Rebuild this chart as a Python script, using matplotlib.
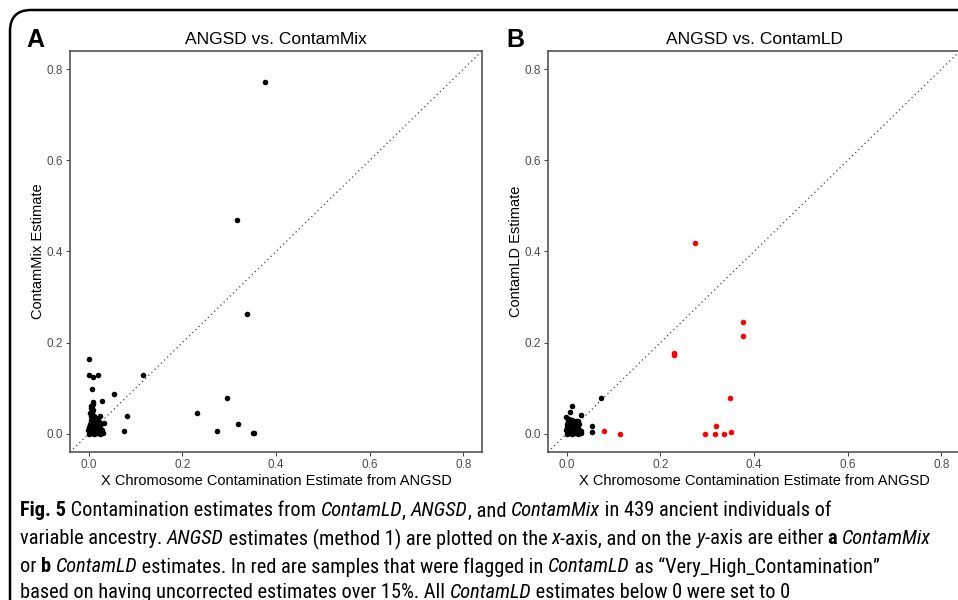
import matplotlib
matplotlib.use("Agg")
import matplotlib.pyplot as plt
from matplotlib import font_manager
from matplotlib.font_manager import FontProperties
from matplotlib.patches import FancyBboxPatch

# fonts
installed = {f.name for f in font_manager.fontManager.ttflist}
chart_font = "Liberation Sans" if "Liberation Sans" in installed else "DejaVu Sans"
plt.rcParams["font.family"] = [chart_font, "DejaVu Sans"]


def _weight(f):
    w = f.weight
    if isinstance(w, str):
        return 700 if "bold" in w.lower() else 400
    return int(w)


# look for a narrow / condensed family for the caption (regular, italic, bold)
narrow = {}
for f in font_manager.fontManager.ttflist:
    fn = f.fname.replace("-", "").replace("_", "")
    if "ExtraCondensed" in fn or "UltraCondensed" in fn or "SemiCondensed" in fn:
        continue
    if not ("Condensed" in fn or "Narrow" in fn or f.stretch == "condensed"):
        continue
    key = f.name
    w = _weight(f)
    if f.style == "normal" and w == 400:
        narrow.setdefault(key, {})["r"] = f.fname
    elif f.style == "italic" and w == 400:
        narrow.setdefault(key, {})["i"] = f.fname
    elif f.style == "normal" and w == 700:
        narrow.setdefault(key, {})["b"] = f.fname

cap_files = None
for fam in ["Liberation Sans Narrow", "Open Sans Condensed", "Open Sans", "Noto Sans",
            "Roboto Condensed", "Roboto", "DejaVu Sans"] + sorted(narrow):
    if fam in narrow and all(k in narrow[fam] for k in "rib"):
        cap_files = narrow[fam]
        break

# ---- data: panel A (ANGSD vs ContamMix) ----
angsd_a = [0.376, 0.316, 0.338, 0.000, 0.000, 0.009, 0.019, 0.116, 0.007, 0.054,
           0.029, 0.009, 0.296, 0.231, 0.082, 0.075, 0.275, 0.318, 0.350, 0.353,
           0.000, 0.003, 0.006, 0.009, 0.012, 0.015, 0.018, 0.021, 0.024, 0.027, 0.030,
           -0.002, 0.002, 0.005, 0.008, 0.011, 0.014, 0.017, 0.020, 0.023, 0.028,
           0.001, 0.004, 0.007, 0.010, 0.013, 0.016, 0.019, 0.025,
           0.003, 0.006, 0.009, 0.012, 0.015, 0.018, 0.022,
           0.004, 0.007, 0.010, 0.013, 0.016, 0.032, 0.024, 0.020,
           0.005, 0.008, 0.011, 0.003, 0.006, 0.009, 0.005, 0.007, 0.004, 0.009]
contammix = [0.773, 0.470, 0.263, 0.164, 0.130, 0.125, 0.128, 0.130, 0.099, 0.088,
             0.073, 0.070, 0.079, 0.045, 0.039, 0.007, 0.005, 0.021, 0.002, 0.002,
             0.000, 0.002, 0.001, 0.003, 0.000, 0.002, 0.001, 0.003, 0.000, 0.002, 0.001,
             0.008, 0.006, 0.009, 0.007, 0.010, 0.006, 0.008, 0.011, 0.007, 0.009,
             0.014, 0.016, 0.013, 0.017, 0.015, 0.018, 0.014, 0.016,
             0.022, 0.025, 0.021, 0.024, 0.027, 0.023, 0.026,
             0.031, 0.034, 0.030, 0.033, 0.029, 0.024, 0.038, 0.035,
             0.040, 0.043, 0.039, 0.045, 0.049, 0.052, 0.056, 0.060, 0.062, 0.066]

# ---- data: panel B (ANGSD vs ContamLD), flagged samples in red ----
angsd_b_flag = [0.273, 0.376, 0.376, 0.230, 0.230, 0.348, 0.318, 0.351, 0.295, 0.316, 0.336, 0.080, 0.114]
contamld_flag = [0.418, 0.245, 0.214, 0.177, 0.172, 0.079, 0.016, 0.004, 0.000, 0.000, 0.000, 0.007, 0.000]

angsd_b = [0.074, 0.053, 0.053, 0.012, 0.007, 0.030, -0.001,
           0.000, 0.003, 0.006, 0.009, 0.012, 0.015, 0.018, 0.021, 0.024, 0.027, 0.030,
           -0.002, 0.002, 0.005, 0.008, 0.011, 0.014, 0.017, 0.020, 0.023, 0.026, 0.031,
           0.001, 0.004, 0.007, 0.010, 0.013, 0.016, 0.019, 0.022, 0.025,
           0.000, 0.003, 0.006, 0.009, 0.015, 0.018, 0.021, 0.027,
           0.002, 0.005, 0.008, 0.011, 0.019, 0.024]
contamld = [0.078, 0.018, 0.004, 0.061, 0.048, 0.041, 0.037,
            0.000, 0.002, 0.001, 0.003, 0.000, 0.002, 0.001, 0.003, 0.000, 0.002, 0.001,
            0.008, 0.006, 0.009, 0.007, 0.010, 0.006, 0.008, 0.011, 0.007, 0.009, 0.006,
            0.014, 0.016, 0.013, 0.017, 0.015, 0.018, 0.014, 0.016, 0.013,
            0.022, 0.025, 0.021, 0.024, 0.020, 0.023, 0.026, 0.022,
            0.030, 0.033, 0.029, 0.031, 0.028, 0.027]

ticks = [0.0, 0.2, 0.4, 0.6, 0.8]
tick_labels = ["0.0", "0.2", "0.4", "0.6", "0.8"]
lims = (-0.04, 0.84)

fig = plt.figure(figsize=(9.58, 6.0), dpi=100)

# outer rounded frame
frame = FancyBboxPatch((10 / 958, -0.05), 1.1, 1 - 10 / 600 + 0.05,
                       boxstyle="round,pad=0,rounding_size=0.022",
                       transform=fig.transFigure, fill=False, lw=1.8, ec="black",
                       mutation_aspect=958 / 600)
fig.patches.append(frame)


def panel(ax, title, ylabel, letter, letter_x):
    ax.plot(lims, lims, ls=(0, (1, 2.5)), color="#444444", lw=0.9, zorder=1)
    ax.set_xlim(lims)
    ax.set_ylim(lims)
    ax.set_xticks(ticks)
    ax.set_xticklabels(tick_labels)
    ax.set_yticks(ticks)
    ax.set_yticklabels(tick_labels)
    ax.tick_params(colors="#4d4d4d", labelsize=8.5, length=3, width=0.8, pad=2,
                   labelcolor="#4d4d4d")
    for s in ax.spines.values():
        s.set_color("#555555")
        s.set_linewidth(1.2)
    ax.set_title(title, fontsize=12.5, pad=5)
    ax.set_xlabel("X Chromosome Contamination Estimate from ANGSD", fontsize=10.5, labelpad=2)
    ax.set_ylabel(ylabel, fontsize=10.5, labelpad=1)
    ax.text(letter_x, 1.028, letter, transform=ax.transAxes, fontsize=18, fontweight="bold",
            ha="center", va="center")


ax1 = fig.add_axes([70 / 958, 1 - 452 / 600, 412 / 958, 401 / 600])
ax1.scatter(angsd_a, contammix, s=16, color="black", lw=0, zorder=3)
panel(ax1, "ANGSD vs. ContamMix", "ContamMix Estimate", "A", -0.085)

ax2 = fig.add_axes([548 / 958, 1 - 452 / 600, 412 / 958, 401 / 600])
ax2.scatter(angsd_b, contamld, s=16, color="black", lw=0, zorder=3)
ax2.scatter(angsd_b_flag, contamld_flag, s=16, color="red", lw=0, zorder=3)
panel(ax2, "ANGSD vs. ContamLD", "ContamLD Estimate", "B", -0.08)

# caption with mixed styles
caption = [
    [("Fig. 5", "b"), (" Contamination estimates from ", "r"), ("ContamLD", "i"), (", ", "r"),
     ("ANGSD", "i"), (", and ", "r"), ("ContamMix", "i"), (" in 439 ancient individuals of", "r")],
    [("variable ancestry. ", "r"), ("ANGSD", "i"), (" estimates (method 1) are plotted on the ", "r"),
     ("x", "i"), ("-axis, and on the ", "r"), ("y", "i"), ("-axis are either ", "r"), ("a", "b"),
     (" ", "r"), ("ContamMix", "i")],
    [("or ", "r"), ("b", "b"), (" ", "r"), ("ContamLD", "i"),
     (" estimates. In red are samples that were flagged in ", "r"), ("ContamLD", "i"),
     (" as \u201cVery_High_Contamination\u201d", "r")],
    [("based on having uncorrected estimates over 15%. All ", "r"), ("ContamLD", "i"),
     (" estimates below 0 were set to 0", "r")],
]
line_y = [511, 539, 567, 593]
line_end = [870, 950, 866, 765]   # right end of each caption line in the figure


def cap_props(kind, size):
    if cap_files is not None:
        return FontProperties(fname=cap_files[kind], size=size)
    return FontProperties(family=chart_font, size=size,
                          style="italic" if kind == "i" else "normal",
                          weight="bold" if kind == "b" else "normal")


renderer = fig.canvas.get_renderer()


def draw_line(parts, yp, size):
    x = 20
    texts = []
    for txt, kind in parts:
        t = fig.text(x / 958, 1 - yp / 600, txt, fontproperties=cap_props(kind, size),
                     va="center", ha="left")
        x = t.get_window_extent(renderer).x1
        texts.append(t)
    return x, texts


# one font size for the caption: average fit over the lines, but nothing past the frame
scales = []
limits = []
for parts, yp, xe in zip(caption, line_y, line_end):
    end, tmp = draw_line(parts, yp, 14)
    for t in tmp:
        t.remove()
    scales.append((xe - 20) / (end - 20))
    limits.append((952 - 20) / (end - 20))
cap_size = 14 * min(sum(scales) / len(scales), min(limits))

for parts, yp in zip(caption, line_y):
    draw_line(parts, yp, cap_size)

fig.savefig("out.png", dpi=100)
